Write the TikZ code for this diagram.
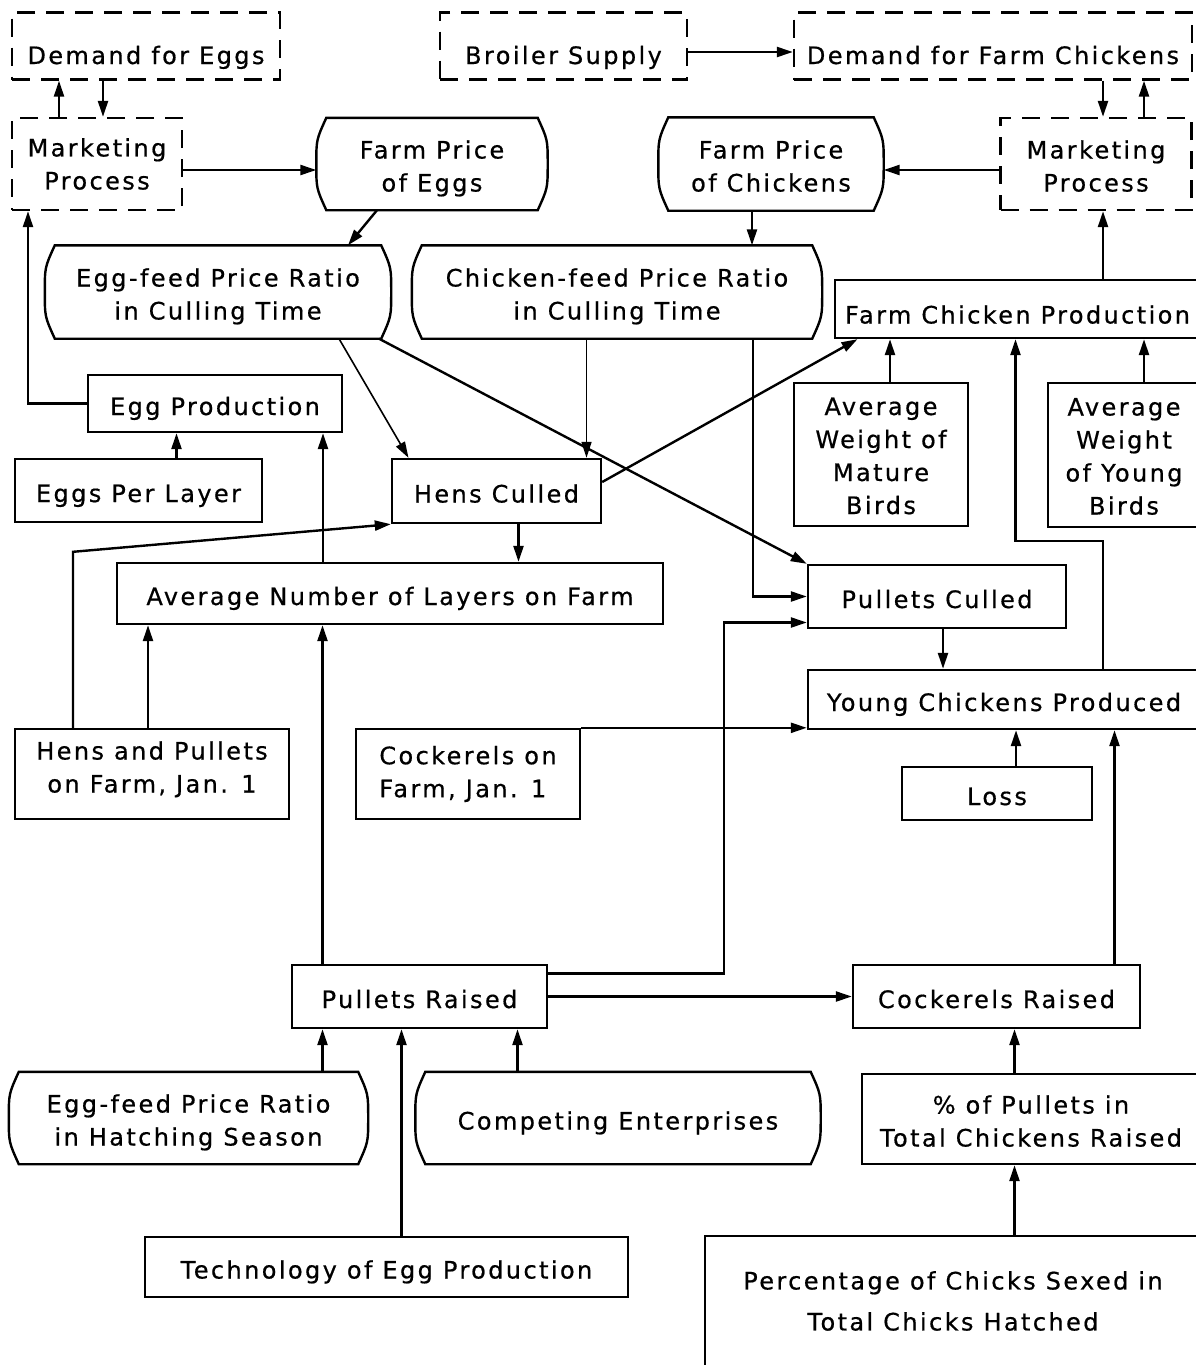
\documentclass[tikz,border=0pt]{standalone}
\usepackage{fontspec}
\setmainfont{DejaVu Sans}[LetterSpace=10, FakeBold=0.6]
\usetikzlibrary{arrows.meta}
\usetikzlibrary{positioning}

% box with bulging sides, drawn round a named node
\newcommand{\barrelbox}[1]{%
	\draw ([xshift=10pt]#1.north west) -- ([xshift=-10pt]#1.north east)
	.. controls ([yshift=-22pt]#1.north east) .. (#1.east)
	.. controls ([yshift=22pt]#1.south east) .. ([xshift=-10pt]#1.south east)
	-- ([xshift=10pt]#1.south west)
	.. controls ([yshift=22pt]#1.south west) .. (#1.west)
	.. controls ([yshift=-22pt]#1.north west) .. ([xshift=10pt]#1.north west) -- cycle;}

\begin{document}
\begin{tikzpicture}[x=1pt, y=-1pt, line width=2.4pt,
	>={Triangle[length=16pt,width=10pt]},
	every node/.style={font=\fontsize{24}{33}\selectfont, align=center, inner sep=2pt},
	sz/.style 2 args={minimum width=#1pt, minimum height=#2pt},
	lo/.style={text height=29pt, text depth=6pt},
	top/.style={text height=42pt, text depth=6pt},
	ml/.style={text height=61pt, text depth=6pt},
	mlfour/.style={text height=125pt, text depth=6pt},
	box/.style={draw, rectangle},
	dbox/.style={draw, rectangle, dash pattern=on 18pt off 11pt},
	barrel/.style={rectangle}]
	\path[use as bounding box, fill=white] (0,0) rectangle (1195,1365);

	\node[dbox, top, sz={268}{67}] (dEggs) at (146,46) {Demand for Eggs};
	\node[dbox, top, sz={247}{67}] (broiler) at (563.5,46) {Broiler Supply};
	\node[dbox, top, sz={398}{67}] (dChick) at (993,46) {Demand for Farm Chickens};
	\node[dbox, sz={170}{92}] (mktE) at (97,164) {Marketing\\Process};
	\node[barrel, ml, sz={229}{90}] (priceE) at (432,164) {Farm Price\\of Eggs};
	\node[barrel, ml, sz={223}{91}] (priceC) at (771,164) {Farm Price\\of Chickens};
	\node[dbox, ml, sz={191}{92}] (mktC) at (1096,164) {Marketing\\Process};
	\node[barrel, ml, sz={344}{91}] (ratioE) at (218,292) {Egg-feed Price Ratio\\in Culling Time};
	\node[barrel, ml, sz={408}{91}] (ratioC) at (617,292) {Chicken-feed Price Ratio\\in Culling Time};
	\node[box, text height=35pt, text depth=6pt, sz={365}{58}] (fcp) at (1017.5,309) {Farm Chicken Production};
	\node[box, lo, sz={254}{57}] (eggProd) at (215,403.5) {Egg Production};
	\node[box, lo, sz={247}{63}] (perLayer) at (138.5,490.5) {Eggs Per Layer};
	\node[box, lo, sz={209}{64}] (hensC) at (496.5,491) {Hens Culled};
	\node[box, mlfour, sz={174}{143}] (wMature) at (881,454.5) {Average\\Weight of\\Mature\\Birds};
	\node[box, mlfour, sz={152}{144}] (wYoung) at (1124,455) {Average\\Weight\\of Young\\Birds};
	\node[box, lo, sz={546}{61}] (layers) at (390,593.5) {Average Number of Layers on Farm};
	\node[box, lo, sz={258}{63}] (pCulled) at (937,596.5) {Pullets Culled};
	\node[box, lo, sz={392}{59}] (young) at (1004,699.5) {Young Chickens Produced};
	\node[box, text height=43pt, text depth=6pt, sz={274}{90}] (hensJan) at (152,774) {Hens and Pullets\\on Farm, Jan. 1};
	\node[box, sz={224}{90}, align=left] (cockJan) at (468,774) {Cockerels on\\Farm, Jan. 1};
	\node[box, lo, sz={190}{53}] (loss) at (997,793.5) {Loss};
	\node[box, lo, sz={255}{63}] (pRaised) at (419.5,996.5) {Pullets Raised};
	\node[box, lo, sz={287}{63}] (cRaised) at (996.5,996.5) {Cockerels Raised};
	\node[barrel, ml, sz={357}{90}] (ratioH) at (188.5,1118) {Egg-feed Price Ratio\\in Hatching Season};
	\node[barrel, lo, sz={403}{90}] (compete) at (618,1118) {Competing Enterprises};
	\node[box, ml, sz={338}{90}] (pctPullets) at (1031,1119) {\% of Pullets in\\Total Chickens Raised};
	\node[box, lo, sz={483}{60}] (tech) at (386.5,1267) {Technology of Egg Production};
	\node[sz={494}{128}] (sexed) at (953,1301) {Percentage of Chicks Sexed in\\[8pt]Total Chicks Hatched};

	\barrelbox{priceE}
	\barrelbox{priceC}
	\barrelbox{ratioE}
	\barrelbox{ratioC}
	\barrelbox{ratioH}
	\barrelbox{compete}
	\draw ([yshift=-20pt]sexed.south west) -- (sexed.north west) -- (sexed.north east);

	% top of the chart
	\draw[->] ([xshift=-38pt]mktE.north) -- ([xshift=-38pt]mktE.north |- dEggs.south);
	\draw[->] ([xshift=6pt]mktE.north |- dEggs.south) -- ([xshift=6pt]mktE.north);
	\draw[->] ([yshift=-6pt]broiler.east) -- ([yshift=-6pt]broiler.east -| dChick.west);
	\draw[->] ([xshift=7pt]mktC.north |- dChick.south) -- ([xshift=7pt]mktC.north);
	\draw[->] ([xshift=48pt]mktC.north) -- ([xshift=48pt]mktC.north |- dChick.south);
	\draw[->] ([yshift=-6pt]mktE.east) -- ([yshift=-6pt]mktE.east -| priceE.west);
	\draw[->] ([yshift=-6pt]mktC.west) -- ([yshift=-6pt]mktC.west -| priceC.east);
	\draw[->] ([xshift=-55pt]priceE.south) -- ([xshift=130pt]ratioE.north);
	\draw[->] ([xshift=-19pt]priceC.south) -- ([xshift=-19pt]priceC.south |- ratioC.north);
	\draw[->] ([xshift=7pt]mktC.south |- fcp.north) -- ([xshift=7pt]mktC.south);
	\draw[->] (eggProd.west) -| ([xshift=-69pt]mktE.south);

	% culling
	\draw[->, line width=1.6pt] ([xshift=121pt]ratioE.south) -- ([xshift=-88pt]hensC.north);
	\draw[->] ([xshift=161pt]ratioE.south) -- (pCulled.north west);
	\draw[->, line width=1.6pt] ([xshift=90pt]hensC.north |- ratioC.south) -- ([xshift=90pt]hensC.north);
	\draw[->] ([xshift=136pt]ratioC.south) |- (pCulled.west);
	\draw[->] ([yshift=9pt]hensC.east) -- ([xshift=-160pt]fcp.south);
	\draw[->] ([xshift=22pt]hensC.south) -- ([xshift=22pt]hensC.south |- layers.north);
	\draw[->] ([xshift=-67pt]layers.north) -- ([xshift=-67pt]layers.north |- eggProd.south);
	\draw[->] ([xshift=38pt]perLayer.north) -- ([xshift=38pt]perLayer.north |- eggProd.south);
	\draw[->] ([xshift=-79pt]hensJan.north) -- ++(0,-176) -- (hensC.south west);
	\draw[->] ([xshift=-4pt]hensJan.north) -- ([xshift=-4pt]hensJan.north |- layers.south);

	% flock
	\draw[->] ([xshift=-97pt]pRaised.north) -- ([xshift=-97pt]pRaised.north |- layers.south);
	\draw[->] ([yshift=23pt]pRaised.east) -- ++(176,0) |- ([yshift=-26pt]pCulled.west);
	\draw[->] (pRaised.east) -- (cRaised.west);
	\draw[->] (cockJan.north east) -- (cockJan.north east -| young.west);
	\draw[->] ([xshift=6pt]pCulled.south) -- ([xshift=6pt]pCulled.south |- young.north);
	\draw[->] ([xshift=99pt]young.north) -- ++(0,-128) -| ([xshift=-2pt]fcp.south);
	\draw[->] ([xshift=9pt]wMature.north) -- ([xshift=9pt]wMature.north |- fcp.south);
	\draw[->] ([xshift=20pt]wYoung.north) -- ([xshift=20pt]wYoung.north |- fcp.south);
	\draw[->] ([xshift=19pt]loss.north) -- ([xshift=19pt]loss.north |- young.south);
	\draw[->] ([xshift=118pt]cRaised.north) -- ([xshift=118pt]cRaised.north |- young.south);
	\draw[->] ([xshift=18pt]cRaised.south |- pctPullets.north) -- ([xshift=18pt]cRaised.south);
	\draw[->] ([xshift=18pt]cRaised.south |- sexed.north) -- ([xshift=18pt]cRaised.south |- pctPullets.south);

	% hatching season
	\draw[->] ([xshift=-97pt]pRaised.south |- ratioH.north) -- ([xshift=-97pt]pRaised.south);
	\draw[->] ([xshift=-18pt]pRaised.south |- tech.north) -- ([xshift=-18pt]pRaised.south);
	\draw[->] ([xshift=98pt]pRaised.south |- compete.north) -- ([xshift=98pt]pRaised.south);
\end{tikzpicture}
\end{document}
